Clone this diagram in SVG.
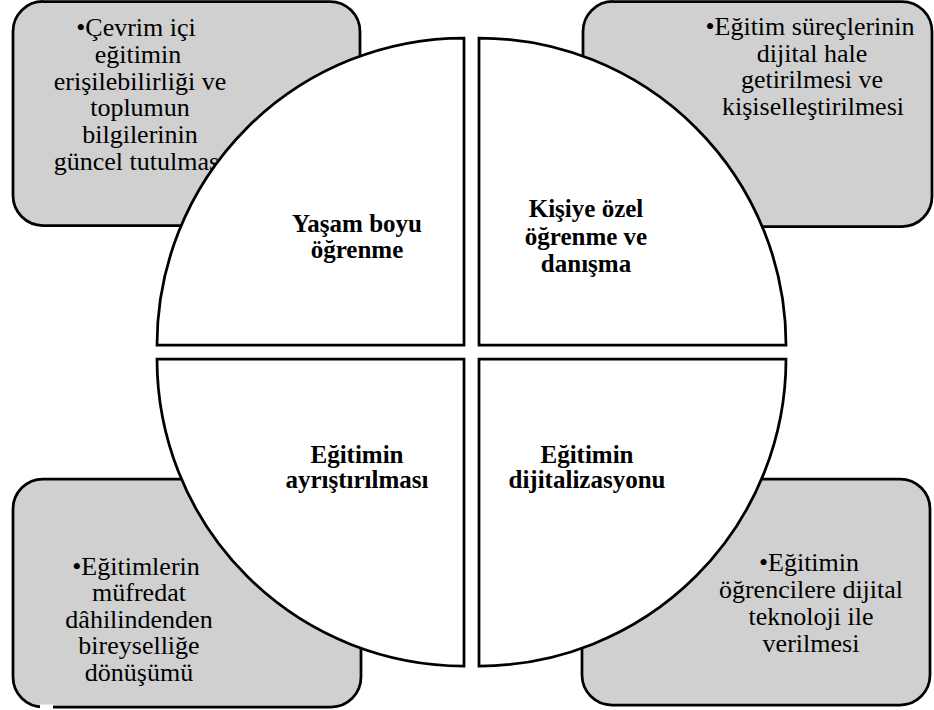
<svg xmlns="http://www.w3.org/2000/svg" width="934" height="710" viewBox="0 0 934 710">
<style>
.box{fill:#d0d0d0;stroke:#000;stroke-width:2.75}
.q{fill:#fff;stroke:#000;stroke-width:2.75;stroke-linejoin:miter}
.t{font-family:'Liberation Serif','DejaVu Serif',serif;font-size:26px;fill:#000;text-anchor:middle}
.b{font-weight:bold;font-size:25px}
</style>
<rect width="934" height="710" fill="#fff"/>
<g id="box-tl">
<rect class="box" x="13" y="1.5" width="347" height="224" rx="30"/>
<text class="t" font-family="Liberation Serif, serif"><tspan x="136" y="36">•Çevrim içi</tspan><tspan x="138" y="63">eğitimin</tspan><tspan x="140" y="90">erişilebilirliği ve</tspan><tspan x="140" y="116">toplumun</tspan><tspan x="140" y="143">bilgilerinin</tspan><tspan x="140" y="170">güncel tutulması</tspan></text>
</g>
<g id="box-tr">
<rect class="box" x="583" y="1.5" width="349" height="225" rx="30"/>
<text class="t" font-family="Liberation Serif, serif"><tspan x="810" y="35">•Eğitim süreçlerinin</tspan><tspan x="812" y="62">dijital hale</tspan><tspan x="812" y="88">getirilmesi ve</tspan><tspan x="813" y="115">kişiselleştirilmesi</tspan></text>
</g>
<g id="box-bl">
<rect class="box" x="13" y="479" width="348" height="228" rx="30"/>
<rect x="40" y="704.5" width="13" height="5.5" fill="#fff"/>
<text class="t" font-family="Liberation Serif, serif"><tspan x="136" y="575">•Eğitimlerin</tspan><tspan x="139" y="601">müfredat</tspan><tspan x="139" y="628">dâhilindenden</tspan><tspan x="139" y="654">bireyselliğe</tspan><tspan x="139" y="681">dönüşümü</tspan></text>
</g>
<g id="box-br">
<rect class="box" x="582" y="479" width="348" height="226" rx="30"/>
<text class="t" font-family="Liberation Serif, serif"><tspan x="809" y="571">•Eğitimin</tspan><tspan x="811" y="598">öğrencilere dijital</tspan><tspan x="811" y="625">teknoloji ile</tspan><tspan x="811" y="652">verilmesi</tspan></text>
</g>
<g id="q-tl">
<path class="q" d="M464,345 L157,345 A307,307 0 0 1 464,38 Z"/>
<text class="t b" font-family="Liberation Serif, serif"><tspan x="357" y="232">Yaşam boyu</tspan><tspan x="357" y="258">öğrenme</tspan></text>
</g>
<g id="q-tr">
<path class="q" d="M479,345 L479,38 A307,307 0 0 1 786,345 Z"/>
<text class="t b" font-family="Liberation Serif, serif"><tspan x="586" y="217">Kişiye özel</tspan><tspan x="586" y="245">öğrenme ve</tspan><tspan x="586" y="272">danışma</tspan></text>
</g>
<g id="q-bl">
<path class="q" d="M464,359 L464,666 A307,307 0 0 1 157,359 Z"/>
<text class="t b" font-family="Liberation Serif, serif"><tspan x="357" y="463">Eğitimin</tspan><tspan x="357" y="488">ayrıştırılması</tspan></text>
</g>
<g id="q-br">
<path class="q" d="M479,359 L786,359 A307,307 0 0 1 479,666 Z"/>
<text class="t b" font-family="Liberation Serif, serif"><tspan x="587" y="463">Eğitimin</tspan><tspan x="587" y="488">dijitalizasyonu</tspan></text>
</g>
<g id="connectors"></g>
</svg>
